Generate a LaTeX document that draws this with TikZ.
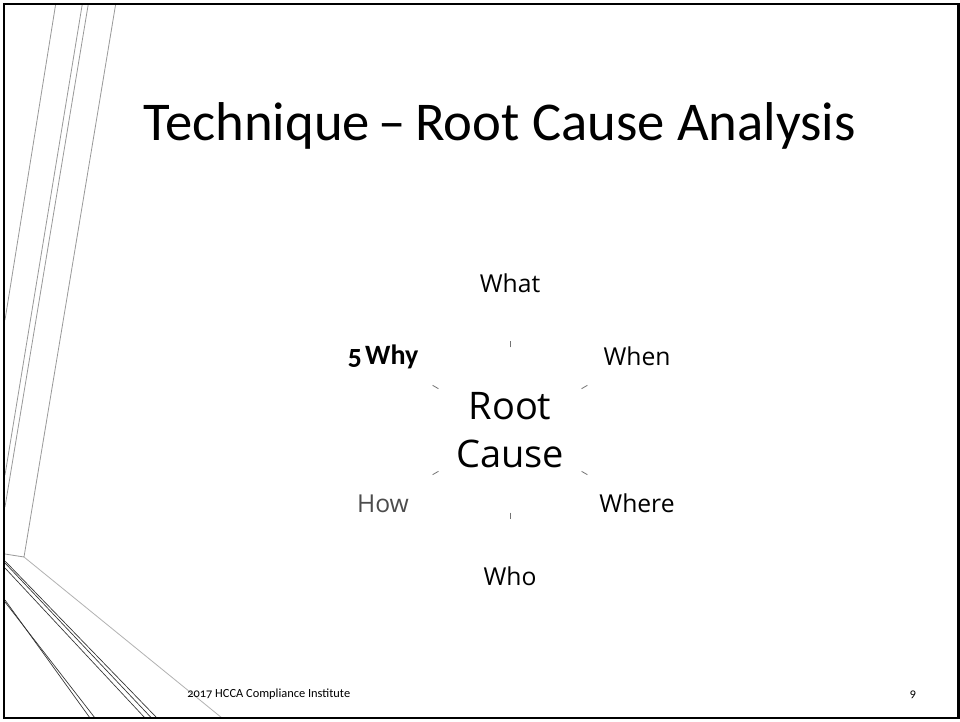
\documentclass[tikz,border=0pt]{standalone}
\usepackage{fontspec}
\setmainfont{Carlito}
\newfontfamily\labelfont{Open Sans}
\newfontfamily\oldnum[Numbers=OldStyle]{Carlito}
\usetikzlibrary{calc,positioning}

\begin{document}
\begin{tikzpicture}[x=0.75pt,y=-0.75pt]
\tikzstyle{frame}=[line width=1.6pt, draw=black]
\tikzstyle{deco}=[line width=0.6pt, draw=black!40]
\tikzstyle{decodark}=[line width=0.5pt, draw=black!80]
\tikzstyle{leaf}=[inner sep=0pt, font=\labelfont\fontsize{18.5}{22}\selectfont]
\tikzstyle{spoke}=[line width=0.6pt, draw=black!55, shorten <=62pt, shorten >=43pt]
\useasboundingbox (0,0) rectangle (960,721);
\fill[white] (0,0) rectangle (960,721);
% left side decoration
\draw[deco] (55.7,4) -- (5,320);
\draw[deco] (82.3,4) -- (5,475);
\draw[deco] (88.3,4) -- (5,507);
\draw[deco] (115.7,4) -- (24,557) -- (5,554);
\draw[deco, draw=black!30] (24,557) -- (222,718);
\draw[decodark] (5,561) -- (157,718);
\draw[decodark] (5,563) -- (151.5,718);
\draw[decodark] (5,568) -- (145,718);
\draw[decodark] (5,600) -- (90,718);
\draw[decodark] (5,602) -- (95,718);
% frame
\draw[frame] (4,4) rectangle (958.5,718);
% title
\node[anchor=base west, inner sep=0pt, font=\fontsize{41}{48}\selectfont] (title) at (143,140) {Technique\,--\,Root Cause Analysis};
% centre and labels
\node[inner sep=0pt, align=center, font=\labelfont\fontsize{28.5}{36.5}\selectfont] (root) at (510,430) {Root\\Cause};
\node[leaf] (what) at ($(root.center)+(90:110pt)$) {What};
\node[leaf] (when) at ($(root.center)+(30:110pt)$) {When};
\node[leaf] (where) at ($(root.center)+(-30:110pt)$) {Where};
\node[leaf] (who) at ($(root.center)+(-90:110pt)$) {Who};
\node[leaf, text=black!70] (how) at ($(root.center)+(-150:110pt)$) {How};
\node[inner sep=0pt, font=\oldnum\bfseries\fontsize{21}{24}\selectfont] (why) at ($(root.center)+(150:110pt)$) {5\kern0.12em Why};
\foreach \n in {what,when,where,who,how,why}
  \draw[spoke] (root.center) -- (\n.center);
% footer
\node[anchor=base west, inner sep=0pt, font=\oldnum\fontsize{9.3}{11}\selectfont] (foot) at (187,697) {2017 HCCA Compliance Institute};
\node[anchor=base, inner sep=0pt, font=\oldnum\fontsize{9.3}{11}\selectfont] (page) at (913,697) {9};
\end{tikzpicture}
\end{document}
